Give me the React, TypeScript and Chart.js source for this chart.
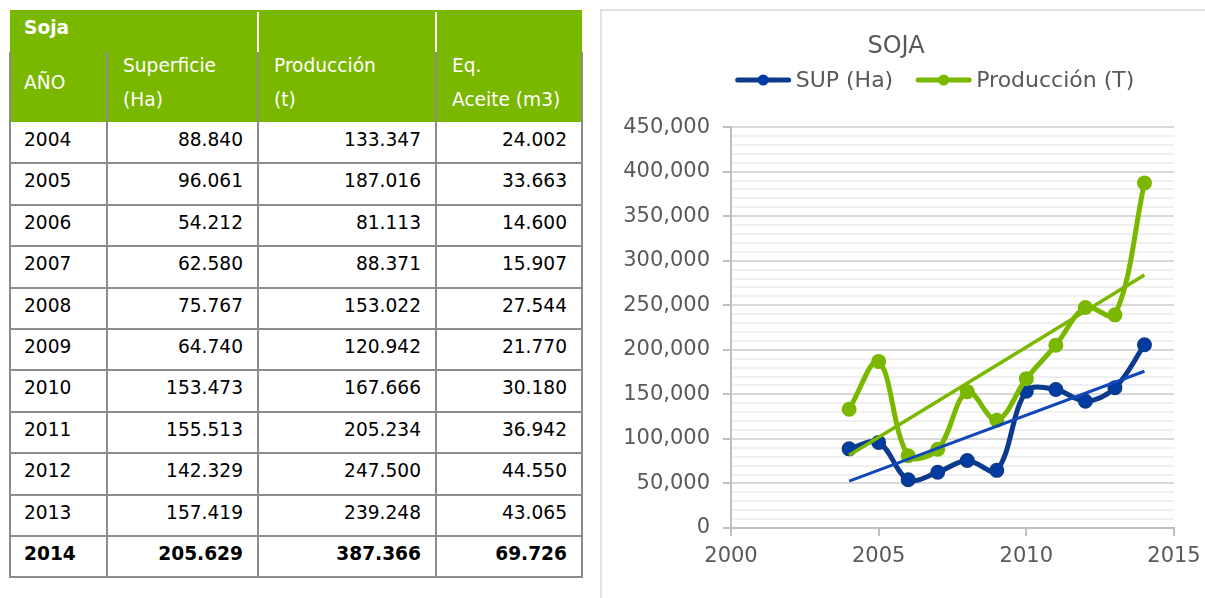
import React, { useEffect, useRef } from "react";
import { Chart, registerables } from "chart.js";

Chart.register(...registerables);

// ---------- data ----------
const YEARS = [2004, 2005, 2006, 2007, 2008, 2009, 2010, 2011, 2012, 2013, 2014];
const SUPERFICIE = [88840, 96061, 54212, 62580, 75767, 64740, 153473, 155513, 142329, 157419, 205629];
const PRODUCCION = [133347, 187016, 81113, 88371, 153022, 120942, 167666, 205234, 247500, 239248, 387366];
const ACEITE = [24002, 33663, 14600, 15907, 27544, 21770, 30180, 36942, 44550, 43065, 69726];

const TABLE_TITLE = "Soja";
const TABLE_HEADERS = [["AÑO"], ["Superficie", "(Ha)"], ["Producción", "(t)"], ["Eq.", "Aceite (m3)"]];
const CHART_TITLE = "SOJA";
const SERIES_LABELS = ["SUP (Ha)", "Producción (T)"];
const X_MIN = 2000;
const X_MAX = 2015;
const X_STEP = 5;
const Y_MIN = 0;
const Y_MAX = 450000;
const Y_MAJOR = 50000;
const Y_MINOR = 10000;

// ---------- styles ----------
const GREEN = "#7ab800";
const NAVY = "#0c3a8c";
const NAVY_MARKER = "#023ca2";
const TREND_BLUE = "#1048b8";
const TEXT_GRAY = "#595959";
const TABLE_LINE = "#8c8c8c";
const FONT = "'DejaVu Sans', Verdana, sans-serif";

const COLS = [10, 107, 258, 436, 582];
const HEAD_TOP = 10;
const HEAD_SPLIT = 52;
const BODY_TOP = 122;
const ROW_H = 41.4;

const CANVAS_LEFT = 602;
const CANVAS_TOP = 12;
const CANVAS_W = 603;
const CANVAS_H = 586;
const PAD_L = 16;
const PAD_R = 31;
const PLOT_LEFT_IN_CANVAS = 129;
const LEGEND_CX = 333;
const LEGEND_CY = 68;

const groupDigits = (n: number, sep: string) =>
  String(Math.round(n)).replace(/\B(?=(\d{3})+(?!\d))/g, sep);

function trendPoints(xs: number[], ys: number[]) {
  const n = xs.length;
  const mx = xs.reduce((a, b) => a + b, 0) / n;
  const my = ys.reduce((a, b) => a + b, 0) / n;
  let sxy = 0;
  let sxx = 0;
  for (let i = 0; i < n; i++) {
    sxy += (xs[i] - mx) * (ys[i] - my);
    sxx += (xs[i] - mx) * (xs[i] - mx);
  }
  const slope = sxy / sxx;
  return [xs[0], xs[n - 1]].map((x) => ({ x, y: my + slope * (x - mx) }));
}

const legendPlugin = {
  id: "excelLegend",
  afterDraw(chart: any) {
    const ctx = chart.ctx as CanvasRenderingContext2D;
    const items = [
      { text: SERIES_LABELS[0], line: NAVY, marker: NAVY_MARKER },
      { text: SERIES_LABELS[1], line: GREEN, marker: GREEN },
    ];
    const lineLen = 55;
    const gap = 5;
    const itemGap = 23;
    ctx.save();
    ctx.font = `22px ${FONT}`;
    const widths = items.map((it) => ctx.measureText(it.text).width);
    const total = items.length * (lineLen + gap) + widths.reduce((a, b) => a + b, 0) + itemGap * (items.length - 1);
    let x = LEGEND_CX - total / 2;
    const y = LEGEND_CY;
    items.forEach((it, i) => {
      ctx.strokeStyle = it.line;
      ctx.lineWidth = 5;
      ctx.lineCap = "round";
      ctx.beginPath();
      ctx.moveTo(x + 2, y);
      ctx.lineTo(x + lineLen - 2, y);
      ctx.stroke();
      ctx.fillStyle = it.marker;
      ctx.beginPath();
      ctx.arc(x + lineLen / 2, y, 5.5, 0, Math.PI * 2);
      ctx.fill();
      ctx.fillStyle = TEXT_GRAY;
      ctx.textBaseline = "middle";
      ctx.textAlign = "left";
      ctx.fillText(it.text, x + lineLen + gap, y + 1);
      x += lineLen + gap + widths[i] + itemGap;
    });
    ctx.restore();
  },
};

function SojaChart() {
  const ref = useRef<HTMLCanvasElement | null>(null);
  useEffect(() => {
    if (!ref.current) return;
    const supPts = YEARS.map((x, i) => ({ x, y: SUPERFICIE[i] }));
    const prodPts = YEARS.map((x, i) => ({ x, y: PRODUCCION[i] }));
    const isMajor = (v: number) => Math.round(v) % Y_MAJOR === 0;
    const tickFont = { family: FONT, size: 21 };
    const chart = new Chart(ref.current, {
      type: "line",
      data: {
        datasets: [
          {
            label: "trend-prod",
            data: trendPoints(YEARS, PRODUCCION),
            borderColor: GREEN,
            borderWidth: 3.5,
            pointRadius: 0,
            tension: 0,
          },
          {
            label: "trend-sup",
            data: trendPoints(YEARS, SUPERFICIE),
            borderColor: TREND_BLUE,
            borderWidth: 3,
            pointRadius: 0,
            tension: 0,
          },
          {
            label: SERIES_LABELS[1],
            data: prodPts,
            borderColor: GREEN,
            backgroundColor: GREEN,
            pointBackgroundColor: GREEN,
            pointBorderColor: GREEN,
            borderWidth: 5,
            pointRadius: 6.5,
            pointBorderWidth: 2,
            tension: 0.35,
          },
          {
            label: SERIES_LABELS[0],
            data: supPts,
            borderColor: NAVY,
            backgroundColor: NAVY_MARKER,
            pointBackgroundColor: NAVY_MARKER,
            pointBorderColor: NAVY,
            borderWidth: 5,
            pointRadius: 6.5,
            pointBorderWidth: 2,
            tension: 0.35,
          },
        ],
      },
      options: {
        animation: false,
        responsive: false,
        maintainAspectRatio: false,
        layout: { padding: { left: PAD_L, right: PAD_R, top: 0, bottom: 0 } },
        plugins: {
          legend: { display: false },
          tooltip: { enabled: false },
          title: {
            display: true,
            text: CHART_TITLE,
            color: TEXT_GRAY,
            font: { family: FONT, size: 24, weight: "normal", lineHeight: 1.15 },
            padding: { top: 20.5, bottom: 67 },
          },
        },
        scales: {
          x: {
            type: "linear",
            min: X_MIN,
            max: X_MAX,
            ticks: {
              stepSize: X_STEP,
              color: TEXT_GRAY,
              font: tickFont,
              padding: 8,
              callback: (v: any) => String(v),
            },
            grid: {
              drawOnChartArea: false,
              drawTicks: true,
              tickLength: 8,
              color: "#bfbfbf",
              lineWidth: 2,
            },
            border: { color: "#bfbfbf", width: 2 },
            afterFit: (s: any) => {
              s.height = 70;
              s.paddingLeft = 0;
              s.paddingRight = 0;
            },
          },
          y: {
            min: Y_MIN,
            max: Y_MAX,
            ticks: {
              stepSize: Y_MINOR,
              autoSkip: false,
              color: TEXT_GRAY,
              font: tickFont,
              padding: 13,
              callback: (v: any) => (isMajor(v) ? groupDigits(v, ",") : ""),
            },
            grid: {
              color: (c: any) => (isMajor(c.tick.value) ? "#d9d9d9" : "#f0f0f0"),
              lineWidth: 2,
              tickLength: 8,
              tickColor: (c: any) => (isMajor(c.tick.value) ? "#bfbfbf" : "rgba(0,0,0,0)"),
            },
            border: { color: "#bfbfbf", width: 2 },
            afterFit: (s: any) => {
              s.width = PLOT_LEFT_IN_CANVAS - PAD_L;
              s.paddingTop = 0;
              s.paddingBottom = 0;
            },
          },
        },
      } as any,
      plugins: [legendPlugin],
    });
    return () => chart.destroy();
  }, []);
  return (
    <canvas
      ref={ref}
      width={CANVAS_W}
      height={CANVAS_H}
      style={{ position: "absolute", left: CANVAS_LEFT, top: CANVAS_TOP, width: CANVAS_W, height: CANVAS_H }}
    />
  );
}

function SojaTable() {
  const bodyBottom = BODY_TOP + ROW_H * YEARS.length;
  const els: React.ReactNode[] = [];
  els.push(
    <div key="green" style={{ position: "absolute", left: COLS[0], top: HEAD_TOP, width: COLS[4] - COLS[0], height: BODY_TOP - HEAD_TOP, background: GREEN }} />
  );
  [COLS[2], COLS[3]].forEach((x, i) =>
    els.push(<div key={"w" + i} style={{ position: "absolute", left: x - 1, top: HEAD_TOP + 2, width: 2, height: HEAD_SPLIT - HEAD_TOP - 2, background: "#ffffff" }} />)
  );
  COLS.forEach((x, i) =>
    els.push(<div key={"v" + i} style={{ position: "absolute", left: x - 1, top: HEAD_SPLIT, width: 2, height: bodyBottom - HEAD_SPLIT + 1, background: TABLE_LINE }} />)
  );
  for (let r = 1; r <= YEARS.length; r++) {
    els.push(
      <div key={"h" + r} style={{ position: "absolute", left: COLS[0] - 1, top: Math.round(BODY_TOP + r * ROW_H) - 1, width: COLS[4] - COLS[0] + 2, height: 2, background: TABLE_LINE }} />
    );
  }
  els.push(
    <div key="title" style={{ position: "absolute", left: 24, top: HEAD_TOP, height: HEAD_SPLIT - HEAD_TOP - 6, lineHeight: `${HEAD_SPLIT - HEAD_TOP - 6}px`, color: "#fff", fontWeight: "bold" }}>
      {TABLE_TITLE}
    </div>
  );
  TABLE_HEADERS.forEach((lines, c) => {
    const left = COLS[c] + (c === 0 ? 14 : 16);
    const top = lines.length === 1 ? 83 - 17 : 83 - 34;
    els.push(
      <div key={"hd" + c} style={{ position: "absolute", left, top, lineHeight: "34px", color: "#fff", whiteSpace: "nowrap" }}>
        {lines.map((l, k) => (
          <div key={k}>{l}</div>
        ))}
      </div>
    );
  });
  YEARS.forEach((yr, r) => {
    const top = BODY_TOP + r * ROW_H - 3;
    const bold = r === YEARS.length - 1;
    const vals = [String(yr), groupDigits(SUPERFICIE[r], "."), groupDigits(PRODUCCION[r], "."), groupDigits(ACEITE[r], ".")];
    vals.forEach((v, c) => {
      const style: React.CSSProperties = {
        position: "absolute",
        top,
        height: ROW_H,
        lineHeight: `${ROW_H}px`,
        fontWeight: bold ? "bold" : "normal",
        color: "#000",
        whiteSpace: "nowrap",
      };
      if (c === 0) {
        style.left = COLS[0] + 14;
      } else {
        style.right = 1205 - COLS[c + 1] + 15;
      }
      els.push(
        <div key={`c${r}-${c}`} style={style}>
          {v}
        </div>
      );
    });
  });
  return <>{els}</>;
}

export default function App() {
  return (
    <div
      style={{
        position: "absolute",
        left: 0,
        top: 0,
        width: 1205,
        height: 598,
        overflow: "hidden",
        background: "#fff",
        fontFamily: FONT,
        fontSize: 18.6,
      }}
    >
      <SojaTable />
      <div style={{ position: "absolute", left: 600, top: 9, width: 700, height: 700, border: "2px solid #e2e2e2" }} />
      <SojaChart />
    </div>
  );
}
